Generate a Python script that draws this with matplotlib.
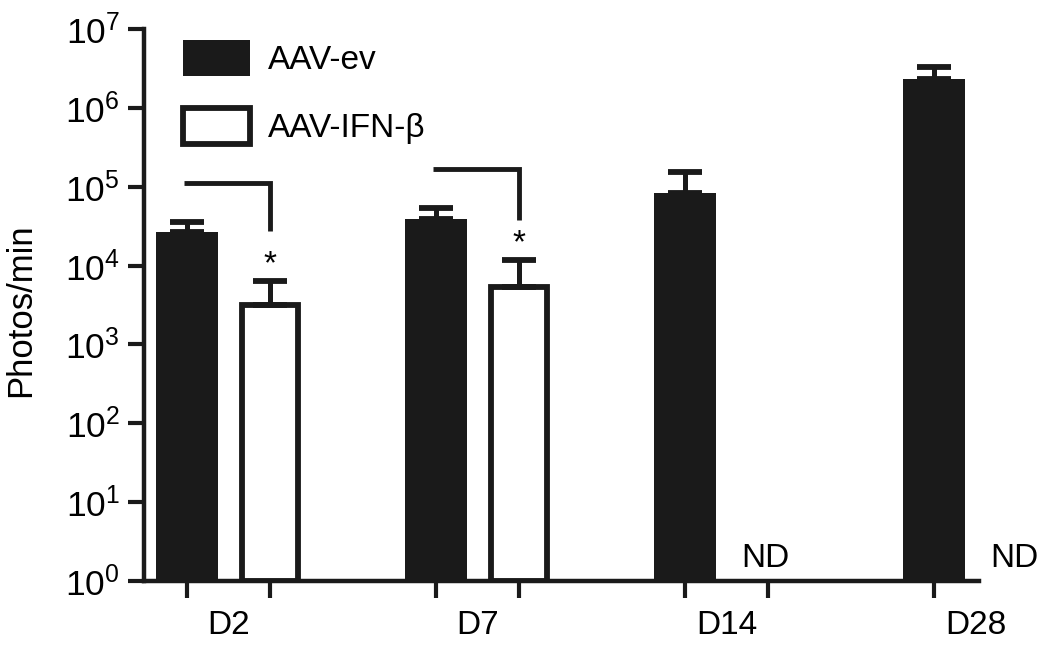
import numpy as np
import matplotlib
matplotlib.use("Agg")
import matplotlib.pyplot as plt
from matplotlib.ticker import NullLocator

plt.rcParams['font.family'] = ['Liberation Sans', 'DejaVu Sans']
plt.rcParams['mathtext.default'] = 'regular'

days = ['D2', 'D7', 'D14', 'D28']
# AAV-ev: mean and top of the error bar (photons/min)
ev_mean = [2.7e4, 3.95e4, 8.3e4, 2.3e6]
ev_upper = [3.6e4, 5.3e4, 1.55e5, 3.3e6]
# AAV-IFN-beta: not detected at D14 / D28
ifn_mean = [3.2e3, 5.3e3, np.nan, np.nan]
ifn_upper = [6.3e3, 1.16e4, np.nan, np.nan]
# significance brackets for D2 and D7
bracket_top = [1.12e5, 1.66e5]
bracket_end = [2.72e4, 3.75e4]

INK = '#1a1a1a'
FS = 24

fig = plt.figure(figsize=(10.5, 6.61), dpi=100)
ax = fig.add_axes([144 / 1050, 1 - 581 / 661, (979 - 144) / 1050, (581 - 29) / 661])

x_ev = np.arange(len(days)) * 3.0
x_ifn = x_ev + 1

ev_mean = np.array(ev_mean)
ev_upper = np.array(ev_upper)
ifn_mean = np.array(ifn_mean)
ifn_upper = np.array(ifn_upper)
ok = ~np.isnan(ifn_mean)

ax.bar(x_ev, ev_mean - 1, bottom=1, width=0.74, color=INK, linewidth=0,
       label='AAV-ev', zorder=2)
ax.bar(x_ifn[ok], ifn_mean[ok] - 1, bottom=1, width=0.68, facecolor='white',
       edgecolor=INK, linewidth=4.2, label='AAV-IFN-β', zorder=2)

ax.errorbar(x_ev, ev_mean, yerr=[np.zeros(len(days)), ev_upper - ev_mean],
            fmt='none', ecolor=INK, elinewidth=3.6, capsize=12.5, capthick=4.2, zorder=3)
ax.errorbar(x_ifn[ok], ifn_mean[ok], yerr=[np.zeros(ok.sum()), ifn_upper[ok] - ifn_mean[ok]],
            fmt='none', ecolor=INK, elinewidth=3.6, capsize=12.5, capthick=4.2, zorder=3)

# brackets and stars
for i in range(len(bracket_top)):
    ax.plot([x_ev[i] - 0.04, x_ifn[i], x_ifn[i]],
            [bracket_top[i], bracket_top[i], bracket_end[i]],
            color=INK, lw=3.5, solid_joinstyle='miter', solid_capstyle='butt')
    ax.annotate('*', xy=(x_ifn[i], ifn_upper[i]), xytext=(0, 6), textcoords='offset points',
                ha='center', va='baseline', fontsize=FS, color='black')

# not detected labels
for i in np.where(~ok)[0]:
    ax.annotate('ND', xy=(x_ifn[i], 1), xytext=(-2, 10), textcoords='offset points',
                ha='center', va='baseline', fontsize=FS, color='black',
                annotation_clip=False)

ax.set_yscale('log')
ax.set_ylim(1, 1e7)
ax.set_xlim(-0.52, 9.54)
ax.set_yticks([10.0 ** k for k in range(8)])
ax.yaxis.set_minor_locator(NullLocator())

ax.set_xticks(x_ev + 0.5, labels=days)
ax.set_xticks([p for p in np.concatenate([x_ev, x_ifn]) if p < 9.54], minor=True)
ax.tick_params(axis='x', which='major', length=0, pad=21, labelsize=FS)
ax.tick_params(axis='x', which='minor', length=12, width=3, color=INK, direction='out')
ax.tick_params(axis='y', which='major', length=11.5, width=3, color=INK, pad=6, labelsize=25.5)

for side in ['top', 'right']:
    ax.spines[side].set_visible(False)
for side in ['left', 'bottom']:
    ax.spines[side].set_linewidth(3.2)
    ax.spines[side].set_color(INK)

ax.set_ylabel('Photos/min', fontsize=25)
ax.yaxis.set_label_coords(-0.128, 0.49)

ax.legend(loc='upper left', bbox_to_anchor=(183 / 1050, 1 - 40 / 661),
          bbox_transform=fig.transFigure, frameon=False, fontsize=FS,
          handlelength=2.0, handleheight=1.3, handletextpad=0.55,
          labelspacing=0.95, borderpad=0, borderaxespad=0)

fig.savefig('out.png', dpi=100)
